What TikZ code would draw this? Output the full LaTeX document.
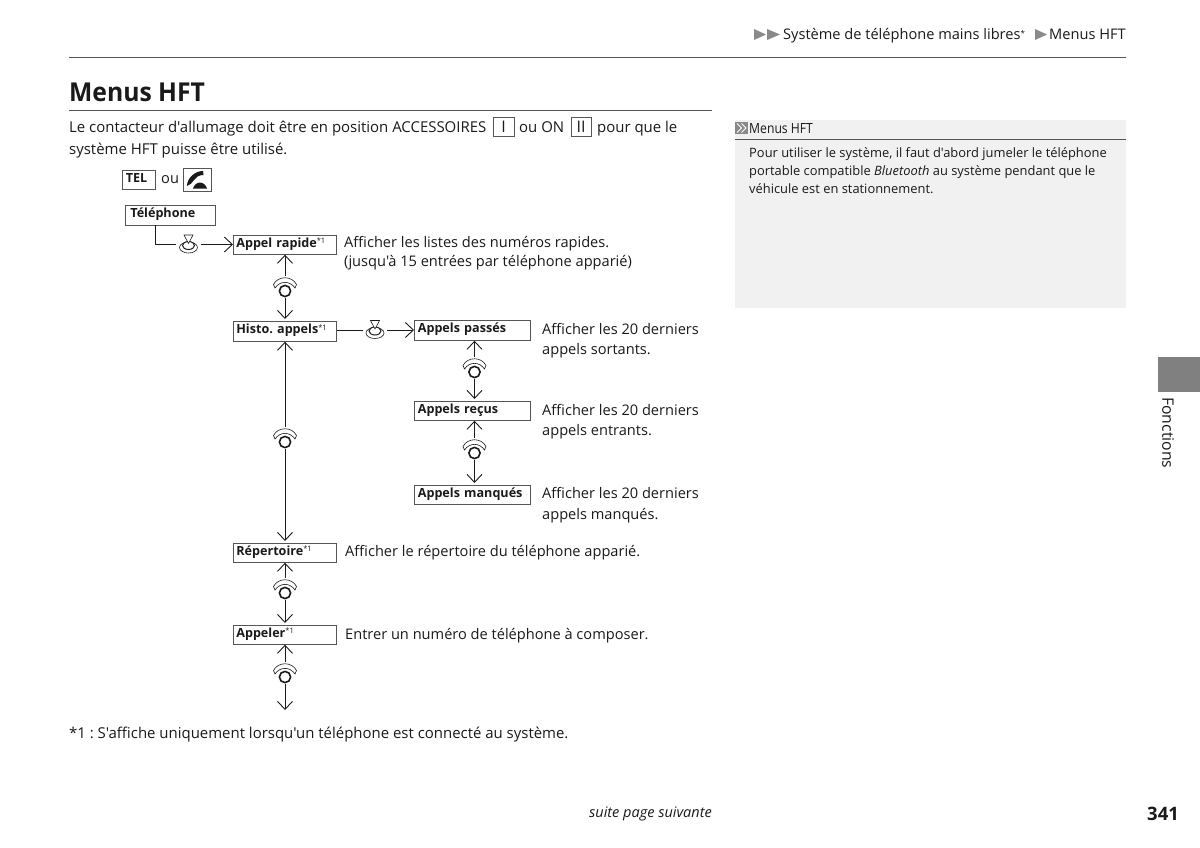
\documentclass[tikz,border=0pt]{standalone}
\usepackage{fontspec}
\setmainfont{Open Sans}[Ligatures=TeXOff]
\usetikzlibrary{arrows.meta}
\frenchspacing
\definecolor{ink}{HTML}{1A1A1A}
\definecolor{rulegray}{HTML}{555555}
\definecolor{sidegray}{HTML}{F1F1F1}
\definecolor{tabgray}{HTML}{808080}
\definecolor{trigray}{HTML}{8A8A8A}
\newcommand{\fsz}[1]{\fontsize{#1}{#1}\selectfont}
\newcommand{\stari}{\raisebox{3.5pt}{\fontsize{7.5}{7.5}\selectfont\mdseries *1}}
\tikzset{
  x=1pt,y=-1pt,
  every node/.style={text=ink},
  txt/.style={anchor=base west,inner sep=0pt,font=\fsz{14.6}},
  txtb/.style={anchor=base west,inner sep=0pt,font=\fsz{14.95}},
  side/.style={anchor=base west,inner sep=0pt,font=\fsz{12.9}},
  menubox/.style={draw=rulegray,line width=0.7pt,anchor=north west,inner xsep=3pt,inner ysep=3pt,
     text height=8.5pt,text depth=4pt,align=left,font=\fsz{12.6}\bfseries},
  keybox/.style={draw=rulegray,line width=0.7pt,anchor=center,inner sep=0pt},
  conn/.style={draw=ink,line width=0.9pt},
  arr/.style={conn,-{Straight Barb[length=8pt,width=15pt,line width=0.9pt]}},
  iconspot/.style={inner sep=0pt,minimum width=24pt,minimum height=22pt},
  pics/pushicon/.style={code={
    \draw[ink,line width=0.6pt,fill=white] (0,3) ellipse (9 and 5.5);
    \draw[ink,line width=1pt,fill=white] (0,1) ellipse (6 and 4);
    \draw[ink,line width=0.6pt,fill=white] (-4.5,-9.5) -- (4.5,-9.5) -- (0,-1) -- cycle;
  }},
  pics/rollicon/.style={code={
    \draw[ink,line width=0.6pt,fill=white] (-11.5,-2.5) .. controls (-7,-11.5) and (7,-11.5) .. (11.5,-2.5)
       -- (10,1) .. controls (5,-6.5) and (-5,-6.5) .. (-10,1) -- cycle;
    \draw[ink,line width=1.6pt,fill=white] (0,4) circle (5.6);
  }},
}
\begin{document}
\begin{tikzpicture}
\useasboundingbox (0,0) rectangle (1200,847);
\fill[white] (0,0) rectangle (1200,847);

% header
\fill[trigray] (754,29) -- (766,34.5) -- (754,40) -- cycle;
\fill[trigray] (767,29) -- (780,34.5) -- (767,40) -- cycle;
\node[txt] (hdr1) at (783,39) {Système de téléphone mains libres\raisebox{3pt}{\fontsize{8}{8}\selectfont*}};
\fill[trigray] (1035,29) -- (1047,34.5) -- (1035,40) -- cycle;
\node[txt] (hdr2) at (1049,39) {Menus HFT};
\draw[rulegray,line width=0.9pt] (69,57.5) -- (1126,57.5);

% title
\node[anchor=base west,inner sep=0pt,font=\fsz{26}\bfseries] (title) at (69,101) {\scalebox{.95}[1]{Menus HFT}};
\draw[rulegray,line width=0.8pt] (69,110.5) -- (712,110.5);

% intro
\node[txtb] (i1) at (69,132) {Le contacteur d'allumage doit être en position ACCESSOIRES};
\node[keybox,minimum width=21pt,minimum height=19pt,font=\fsz{16}] (k1) at (503.5,126.5) {I};
\node[txtb] (i2) at (519,132) {ou ON};
\node[keybox,minimum width=20pt,minimum height=19pt,font=\fsz{16}] (k2) at (581,126.5) {II};
\node[txtb] (i3) at (597,132) {pour que le};
\node[txtb] (i4) at (69,154) {système HFT puisse être utilisé.};

% tel
\node[menubox,minimum width=33pt,minimum height=19pt,inner sep=2.5pt,text width=26pt] (tel) at (122,170) {TEL};
\node[txt] (ou) at (161,183) {ou};
\node[keybox,minimum width=28pt,minimum height=23pt] (phone) at (197,179.5) {};
\fill[ink] (187,186) .. controls (187,178) and (195,171) .. (203,171) -- (203.5,175) .. controls (199,175) and (196,177) .. (194,180)
   .. controls (192,183) and (190,185) .. (187,186) -- cycle;
\fill[ink] (193,188.5) .. controls (194,185) and (197,182.5) .. (200,182.5) .. controls (203,182.5) and (206,185) .. (207,188.5) -- cycle;

% menu boxes
\node[menubox,minimum width=90pt,minimum height=19.5pt,text width=80pt,inner xsep=2pt] (tele) at (125,205) {Téléphone};
\node[menubox,minimum width=103pt,minimum height=19pt,text width=97pt] (rapide) at (233,235) {Appel rapide\stari};
\node[menubox,minimum width=103pt,minimum height=20pt,text width=97pt] (histo) at (233,321) {Histo. appels\stari};
\node[menubox,minimum width=115pt,minimum height=20pt,text width=109pt,inner xsep=3.5pt] (passes) at (414,320) {Appels passés};
\node[menubox,minimum width=115pt,minimum height=19pt,text width=109pt,inner xsep=3.5pt] (recus) at (414,401) {Appels reçus};
\node[menubox,minimum width=115pt,minimum height=19pt,text width=109pt,inner xsep=3.5pt] (manques) at (414,485) {Appels manqués};
\node[menubox,minimum width=103pt,minimum height=19pt,text width=97pt] (repert) at (233,543) {Répertoire\stari};
\node[menubox,minimum width=103pt,minimum height=19pt,text width=97pt] (appeler) at (233,625) {Appeler\stari};

% icon anchors
\node[iconspot] (p1) at (188.5,244.5) {};
\node[iconspot] (p2) at (375,330) {};
\node[iconspot] (r1) at (285,287) {};
\node[iconspot] (r2) at (285,438) {};
\node[iconspot] (r3) at (285,589) {};
\node[iconspot] (r4) at (285,673) {};
\node[iconspot] (r5) at (474.5,368) {};
\node[iconspot] (r6) at (474.5,449) {};
\coordinate (endfree) at (285,710);
\coordinate (bend) at (155.5,244.5);

% connectors
\draw[conn] (bend |- tele.south) -- (bend) -- (p1.west);
\draw[arr] (p1.east) -- (p1.east -| rapide.west);
\draw[conn] (histo.east |- p2) -- (p2.west);
\draw[arr] (p2.east) -- (p2.east -| passes.west);
\foreach \a/\b/\c in {rapide/r1/histo,histo/r2/repert,repert/r3/appeler,passes/r5/recus,recus/r6/manques}{
  \draw[arr] (\b.north) -- (\b.north |- \a.south);
  \draw[arr,shorten >=2pt] (\b.south) -- (\b.south |- \c.north);
}
\draw[arr] (r4.north) -- (r4.north |- appeler.south);
\draw[arr] (r4.south) -- (endfree);

% icons
\pic at (p1) {pushicon};
\pic at (p2) {pushicon};
\foreach \b in {r1,r2,r3,r4,r5,r6}{\pic at (\b) {rollicon};}

% descriptions
\node[txt] (d1) at (344,247) {Afficher les listes des numéros rapides.};
\node[txt] (d2) at (344,266) {(jusqu'à 15 entrées par téléphone apparié)};
\node[txt] (d3) at (542,334) {Afficher les 20 derniers};
\node[txt] (d4) at (542,354) {appels sortants.};
\node[txt] (d5) at (542,415) {Afficher les 20 derniers};
\node[txt] (d6) at (542,435) {appels entrants.};
\node[txt] (d7) at (542,498) {Afficher les 20 derniers};
\node[txt] (d8) at (542,519) {appels manqués.};
\node[txt] (d9) at (345,556) {Afficher le répertoire du téléphone apparié.};
\node[txt] (d10) at (345,639) {Entrer un numéro de téléphone à composer.};
\node[txtb] (foot) at (69,738) {*1 : S'affiche uniquement lorsqu'un téléphone est connecté au système.};

% sidebar
\fill[sidegray] (735,120) rectangle (1126,308);
\draw[rulegray,line width=0.7pt] (735,139.5) -- (1126,139.5);
\fill[trigray] (735,122) rectangle (748,134);
\draw[white,line width=0.9pt] (737,123.5) -- (741.5,128) -- (737,132.5);
\draw[white,line width=0.9pt] (741.5,123.5) -- (746,128) -- (741.5,132.5);
\node[anchor=base west,inner sep=0pt,font=\fsz{14}] (sh) at (749,133) {\scalebox{.87}[1]{Menus HFT}};
\node[side] (s1) at (749,157.5) {Pour utiliser le système, il faut d'abord jumeler le téléphone};
\node[side] (s2) at (749,175.5) {portable compatible \textit{Bluetooth} au système pendant que le};
\node[side] (s3) at (749,193.5) {véhicule est en stationnement.};

% tab
\fill[tabgray] (1158,357) rectangle (1200,392);
\node[anchor=west,inner sep=0pt,rotate=-90,font=\fsz{15.8}] (fonc) at (1168,397) {Fonctions};

% footer
\node[anchor=base,inner sep=0pt,font=\fsz{14.5}\itshape] (suite) at (650.5,817) {suite page suivante};
\node[anchor=base west,inner sep=0pt,font=\fsz{18.5}\bfseries] (page) at (1147,820) {341};
\end{tikzpicture}
\end{document}
